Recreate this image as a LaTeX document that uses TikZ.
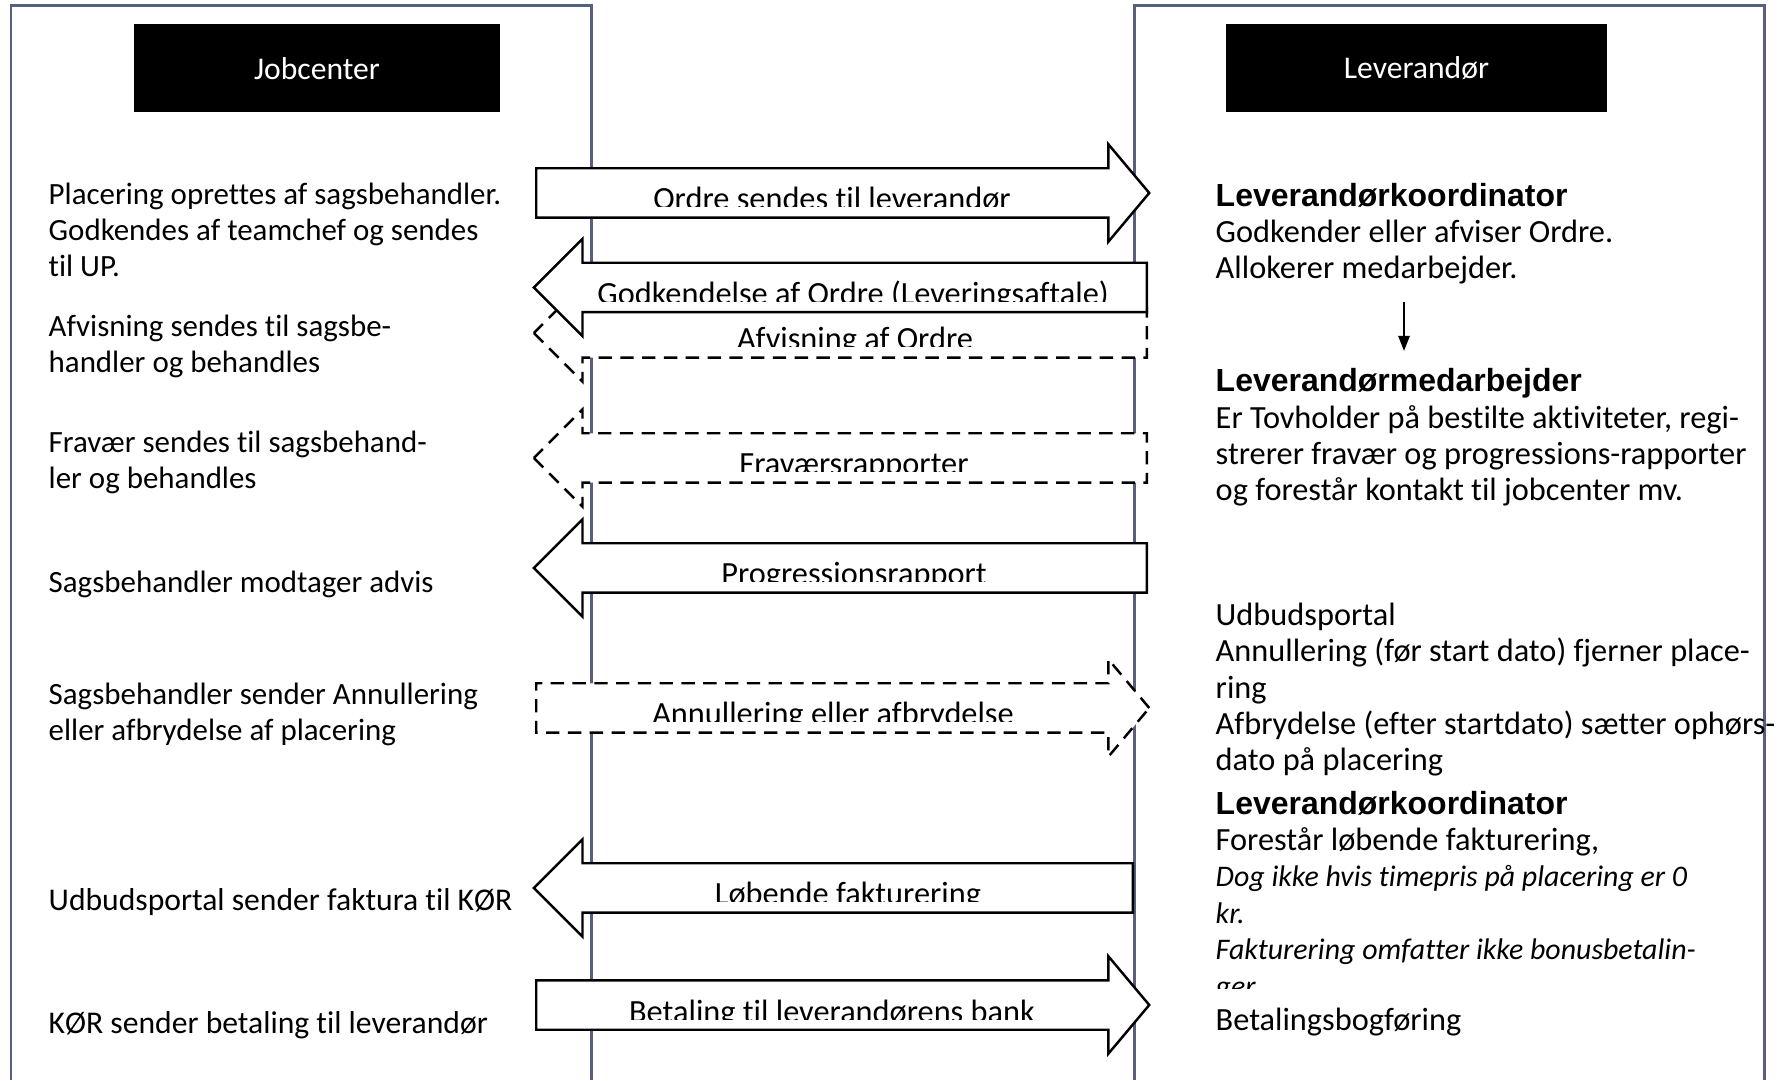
\documentclass[tikz,border=0pt]{standalone}
\usepackage{fontspec}
\setmainfont{Carlito}[Ligatures={NoCommon,NoDiscretionary}]
\newfontfamily\arialfont{Liberation Sans}
\usepackage{tikz}
\usetikzlibrary{shapes.arrows}
\usetikzlibrary{arrows.meta}

\definecolor{lane}{RGB}{87,94,126}
\newcommand{\note}[1]{{\itshape\fontsize{8.5}{10.35}\selectfont #1}}

\tikzset{
  lanetext/.style={font=\fontsize{8.8}{10.35}\selectfont, inner sep=0pt, align=left, anchor=base west},
  suppliertext/.style={lanetext, font=\fontsize{9.2}{10.35}\selectfont},
  lanehead/.style={fill=black, text=white, font=\fontsize{9}{10}\selectfont, minimum height=0.88cm},
  lanebox/.style={draw=lane, line width=0.85pt},
  msgarrow/.style={single arrow, draw, line width=0.7pt, fill=white, inner xsep=0pt, inner ysep=0.235cm,
      anchor=tail, single arrow head extend=0.24cm, minimum height=6.13cm},
  msgright/.style={msgarrow, single arrow tip angle=100},
  msgleft/.style={msgarrow, shape border rotate=180, single arrow tip angle=90},
  dashy/.style={dash pattern=on 3.8pt off 2.4pt},
  msglabel/.style={font=\fontsize{9.2}{10}\selectfont, inner sep=0pt, anchor=base},
}

\begin{document}
\begin{tikzpicture}
  \useasboundingbox (0,0) rectangle (17.82,10.80);

  % Swim lanes
  \draw[lanebox] (0.11,0) |- (5.91,10.74) -- (5.91,0);
  \draw[lanebox] (11.34,0) |- (17.64,10.74) -- (17.64,0);
  \node[lanehead, minimum width=3.66cm] (jobcenter) at (3.17,10.115) {Jobcenter};
  \node[lanehead, minimum width=3.81cm] (leverandor) at (14.165,10.115) {Leverandør};

  % Jobcenter side (nodes sit on their last baseline)
  \node[lanetext] (placering) at (0.48,8.03) {Placering oprettes af sagsbehandler.\\Godkendes af teamchef og sendes\\til UP.};
  \node[lanetext] (afvisning) at (0.48,7.07) {Afvisning sendes til sagsbe-\\handler og behandles};
  \node[lanetext] (fravaer) at (0.48,5.91) {Fravær sendes til sagsbehand-\\ler og behandles};
  \node[lanetext] (advis) at (0.48,4.87) {Sagsbehandler modtager advis};
  \node[lanetext] (annullering) at (0.48,3.39) {Sagsbehandler sender Annullering\\eller afbrydelse af placering};
  \node[lanetext, font=\fontsize{9}{10}\selectfont] (faktura) at (0.48,1.70) {Udbudsportal sender faktura til KØR};
  \node[lanetext, font=\fontsize{9}{10}\selectfont] (betaling) at (0.48,0.47) {KØR sender betaling til leverandør};

  % Leverandør side
  \node[suppliertext] (koord) at (12.15,8.01) {{\arialfont\bfseries\fontsize{9.1}{10}\selectfont Leverandørkoordinator}\\Godkender eller afviser Ordre.\\Allokerer medarbejder.};
  \node[suppliertext] (medarb) at (12.15,5.79) {{\arialfont\bfseries\fontsize{9.1}{10}\selectfont Leverandørmedarbejder}\\Er Tovholder på bestilte aktiviteter, regi-\\strerer fravær og progressions-rapporter\\og forestår kontakt til jobcenter mv.};
  \coordinate (flowx) at (14.04,0);
  \draw[-{Triangle[length=4.3pt,width=3.2pt]}, line width=0.6pt] ([yshift=-1.7mm]koord.south -| flowx) -- ([yshift=1.7mm]medarb.north -| flowx);
  \node[suppliertext] (udbud) at (12.15,3.09) {Udbudsportal\\Annullering (før start dato) fjerner place-\\ring\\Afbrydelse (efter startdato) sætter ophørs-\\dato på placering};
  \begin{scope}
    \clip (11.4,0.915) rectangle (17.82,3.2);
    \node[suppliertext] (koord2) at (12.15,0.84) {{\arialfont\bfseries\fontsize{9.1}{10}\selectfont Leverandørkoordinator}\\Forestår løbende fakturering,\\\note{Dog ikke hvis timepris på placering er 0}\\\note{kr.}\\\note{Fakturering omfatter ikke bonusbetalin-}\\\note{ger}};
  \end{scope}
  \node[suppliertext] (bogforing) at (12.15,0.50) {Betalingsbogføring};

  % Messages between the lanes
  \node[msgright] (ordre) at (5.35,8.87) {};
  \begin{scope}
    \clip (5.4,9.11) rectangle (11.4,8.73);
    \node[msglabel] (ordre-txt) at (8.32,8.70) {Ordre sendes til leverandør};
  \end{scope}

  \node[msgleft, dashy] (afvis) at (11.48,7.47) {};
  \begin{scope}
    \clip (5.4,7.71) rectangle (11.4,7.33);
    \node[msglabel] (afvis-txt) at (8.55,7.30) {Afvisning af Ordre};
  \end{scope}

  \node[msgleft] (godk) at (11.48,7.925) {};
  \begin{scope}
    \clip (5.4,8.165) rectangle (11.4,7.785);
    \node[msglabel] (godk-txt) at (8.53,7.755) {Godkendelse af Ordre (Leveringsaftale)};
  \end{scope}

  \node[msgleft, dashy] (frav) at (11.48,6.22) {};
  \begin{scope}
    \clip (5.4,6.46) rectangle (11.4,6.08);
    \node[msglabel] (frav-txt) at (8.54,6.05) {Fraværsrapporter};
  \end{scope}

  \node[msgleft] (progr) at (11.48,5.12) {};
  \begin{scope}
    \clip (5.4,5.36) rectangle (11.4,4.98);
    \node[msglabel] (progr-txt) at (8.54,4.95) {Progressionsrapport};
  \end{scope}

  \node[msgright, dashy] (annul) at (5.35,3.72) {};
  \begin{scope}
    \clip (5.4,3.96) rectangle (11.4,3.58);
    \node[msglabel] (annul-txt) at (8.33,3.55) {Annullering eller afbrydelse};
  \end{scope}

  \node[msgleft, minimum height=5.99cm] (lob) at (11.34,1.92) {};
  \begin{scope}
    \clip (5.4,2.16) rectangle (11.4,1.78);
    \node[msglabel] (lob-txt) at (8.48,1.75) {Løbende fakturering};
  \end{scope}

  \node[msgright] (bank) at (5.35,0.75) {};
  \begin{scope}
    \clip (5.4,0.99) rectangle (11.4,0.61);
    \node[msglabel] (bank-txt) at (8.32,0.58) {Betaling til leverandørens bank};
  \end{scope}
\end{tikzpicture}
\end{document}
